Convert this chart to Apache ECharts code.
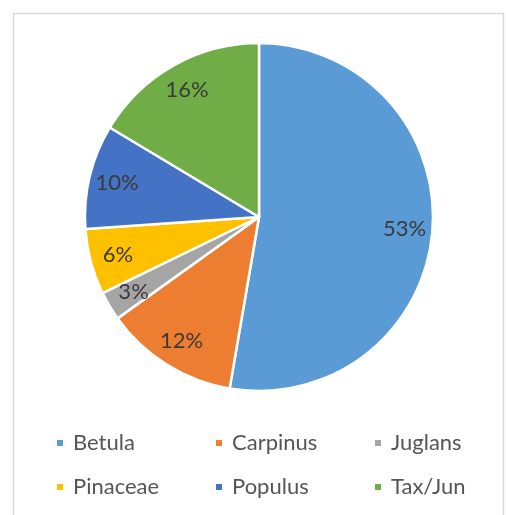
<!DOCTYPE html>
<html>
<head>
<meta charset="utf-8">
<script src="https://cdn.jsdelivr.net/npm/echarts@6/dist/echarts.min.js"></script>
<style>html,body{margin:0;padding:0;background:#fff;}#c{width:506px;height:515px;}</style>
</head>
<body>
<div id="c"></div>
<script>
const categories = ['Betula', 'Carpinus', 'Juglans', 'Pinaceae', 'Populus', 'Tax/Jun'];
const values = [52.7, 12.4, 2.7, 6.1, 9.7, 16.4];
const colors = ['#5B9BD5', '#ED7D31', '#A5A5A5', '#FFC000', '#4472C4', '#70AD47'];

const data = categories.map((n, i) => ({ name: n, value: values[i], itemStyle: { color: colors[i] } }));
const chart = echarts.init(document.getElementById('c'), null, { renderer: 'canvas' });
chart.setOption({
  animation: false,
  graphic: [{
    type: 'rect', shape: { x: 13.5, y: 13.5, width: 490, height: 520 },
    style: { fill: 'none', stroke: '#d9d9d9', lineWidth: 1.5 }, silent: true, z: -10
  }],
  legend: {
    data: categories,
    left: 55, top: 421, width: 480, padding: 0,
    orient: 'horizontal',
    icon: 'rect', itemWidth: 8, itemHeight: 8, itemGap: 0,
    textStyle: { fontFamily: 'Lato', fontSize: 22, color: '#555555', width: 141, lineHeight: 44, padding: [0, 0, 0, 4] }
  },
  series: [{
    type: 'pie',
    center: [259, 217], radius: [0, 174],
    startAngle: 90, clockwise: true,
    data: data,
    itemStyle: { borderColor: '#fff', borderWidth: 2.5 },
    label: { show: false }, labelLine: { show: false },
    emphasis: { disabled: true }
  }, {
    type: 'pie',
    center: [259, 217], radius: [0, 286],
    startAngle: 90, clockwise: true,
    silent: true,
    data: categories.map((n, i) => ({ name: n, value: values[i] })),
    itemStyle: { color: 'rgba(0,0,0,0)', opacity: 0 },
    label: {
      show: true, position: 'inside', opacity: 1,
      fontFamily: 'Lato', fontSize: 22, color: '#3a3a3a',
      formatter: p => Math.round(p.value) + '%'
    },
    labelLine: { show: false },
    emphasis: { disabled: true },
    z: 5
  }]
});
</script>
</body>
</html>
